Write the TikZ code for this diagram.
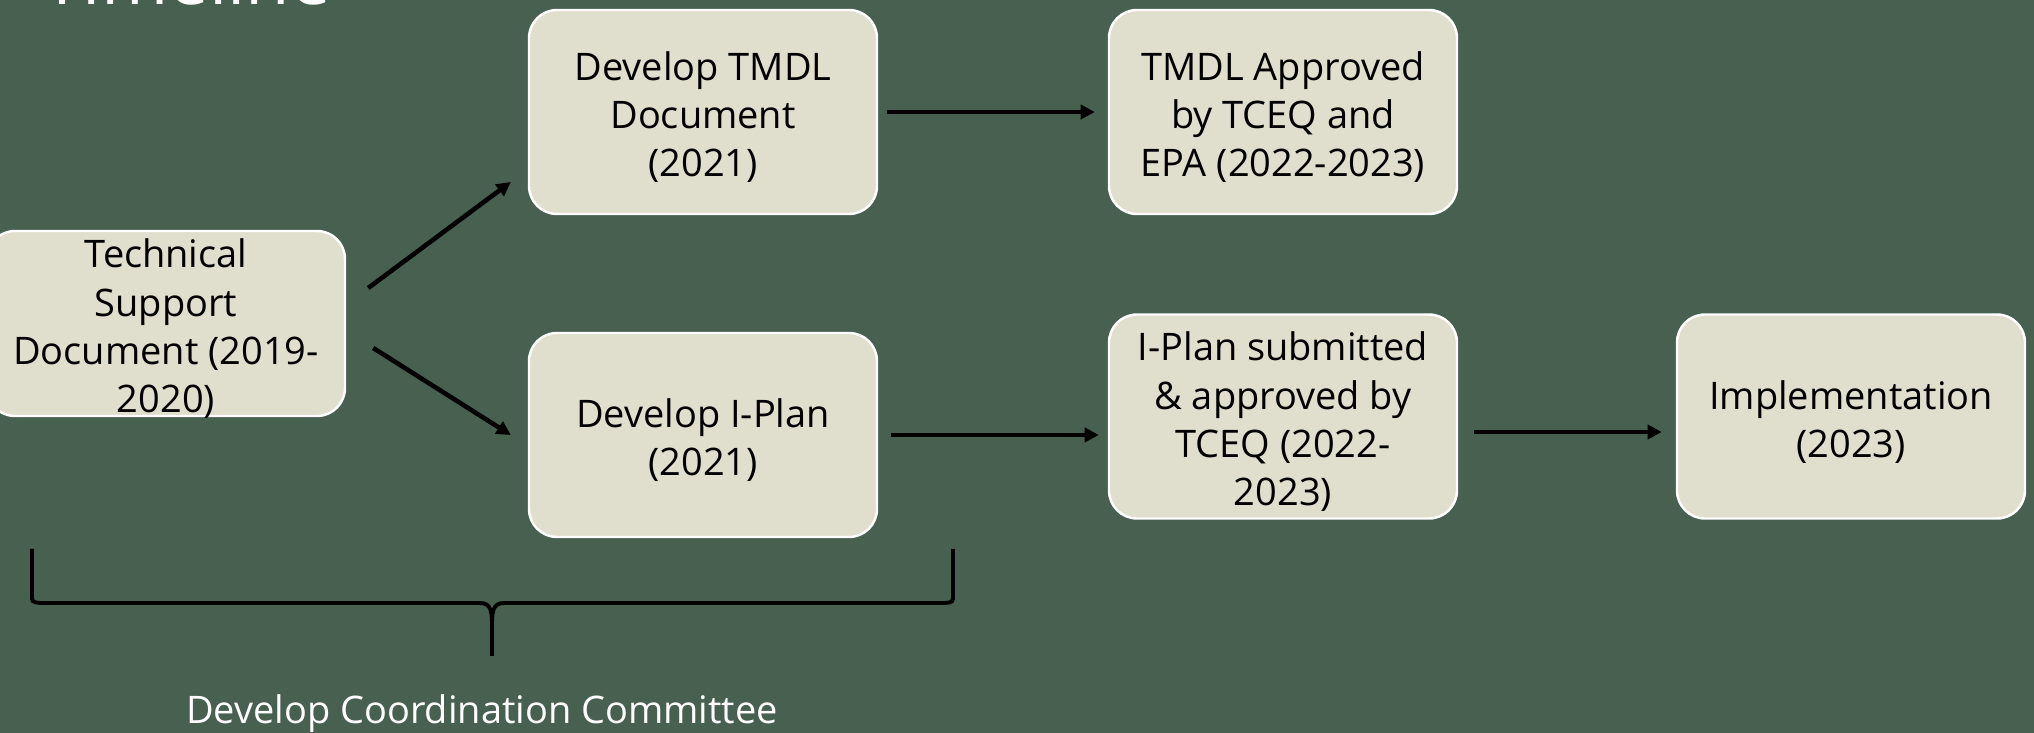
\documentclass[tikz,border=0pt]{standalone}
\usepackage{fontspec}
\setmainfont{Open Sans}
\usetikzlibrary{arrows.meta, calc}
\definecolor{bgreen}{HTML}{47604F}
\definecolor{boxfill}{HTML}{E0DECC}
% strut that pushes the first line of a box down a little
\newcommand{\tltop}{\rule{0pt}{11.2pt}}

\begin{document}
\begin{tikzpicture}[
    tlbox/.style={draw=white, line width=0.7pt, fill=boxfill, rounded corners=0.28cm,
        minimum width=3.48cm, minimum height=2.04cm, align=center, inner sep=0pt,
        font=\fontsize{10.8}{13.7}\selectfont},
    tlarrow/.style={line width=1.3pt, -{Triangle[length=4pt,width=4pt]}, black}
]
    % Background
    \fill[bgreen] (0,0) rectangle (20.34,7.33);
    \useasboundingbox (0,0) rectangle (20.34,7.33);
    \clip (0,0) rectangle (20.34,7.33);

    % Title (cut off at the top)
    \node[white, anchor=base west, inner sep=0pt, font=\fontsize{20.6}{25}\selectfont] (title) at (0.42,7.28) {Timeline};

    % Boxes
    \node[tlbox, minimum width=3.58cm, minimum height=1.85cm, inner ysep=-0.045cm] (tsd) at (1.66,4.095) {\tltop Technical\\Support\\Document (2019-\\2020)};
    \node[tlbox] (tmdl) at (7.03,6.21) {\tltop Develop TMDL\\Document\\(2021)};
    \node[tlbox] (appr) at (12.83,6.21) {\tltop TMDL Approved\\by TCEQ and\\EPA (2022-2023)};
    \node[tlbox] (iplan) at (7.03,2.98) {\tltop Develop I-Plan\\(2021)};
    \node[tlbox] (subm) at (12.83,3.165) {\tltop I-Plan submitted\\\& approved by\\TCEQ (2022-\\2023)};
    \node[tlbox] (impl) at (18.51,3.165) {\tltop Implementation\\(2023)};

    % Arrows
    \draw[tlarrow] ($(tsd.east)+(0.22,0.355)$) -- ($(tmdl.west)+(-0.17,-0.70)$);
    \draw[tlarrow] ($(tsd.east)+(0.27,-0.245)$) -- ($(iplan.west)+(-0.17,0)$);
    \draw[tlarrow, shorten <=0.09cm, shorten >=0.13cm] (tmdl.east) -- (appr.west);
    \draw[tlarrow, shorten <=0.13cm, shorten >=0.09cm] (iplan.east) -- (iplan.east -| subm.west);
    \coordinate (subout) at ($(subm.east)+(0,-0.155)$);
    \draw[tlarrow, shorten <=0.16cm, shorten >=0.14cm] (subout) -- (subout -| impl.west);

    % Brace under the first two steps
    \draw[black, line width=1.1pt]
        (0.32,1.84) -- (0.32,1.38) .. controls (0.32,1.31) .. (0.40,1.30)
        -- (4.80,1.30) .. controls (4.92,1.30) and (4.92,1.20) .. (4.92,1.05) -- (4.92,0.77);
    \draw[black, line width=1.1pt]
        (9.53,1.84) -- (9.53,1.38) .. controls (9.53,1.31) .. (9.45,1.30)
        -- (5.04,1.30) .. controls (4.92,1.30) and (4.92,1.20) .. (4.92,1.05);
    \node[white, anchor=base, inner sep=0pt, font=\fontsize{10.8}{13.7}\selectfont] (comm) at (4.82,0.095) {Develop Coordination Committee};
\end{tikzpicture}
\end{document}
